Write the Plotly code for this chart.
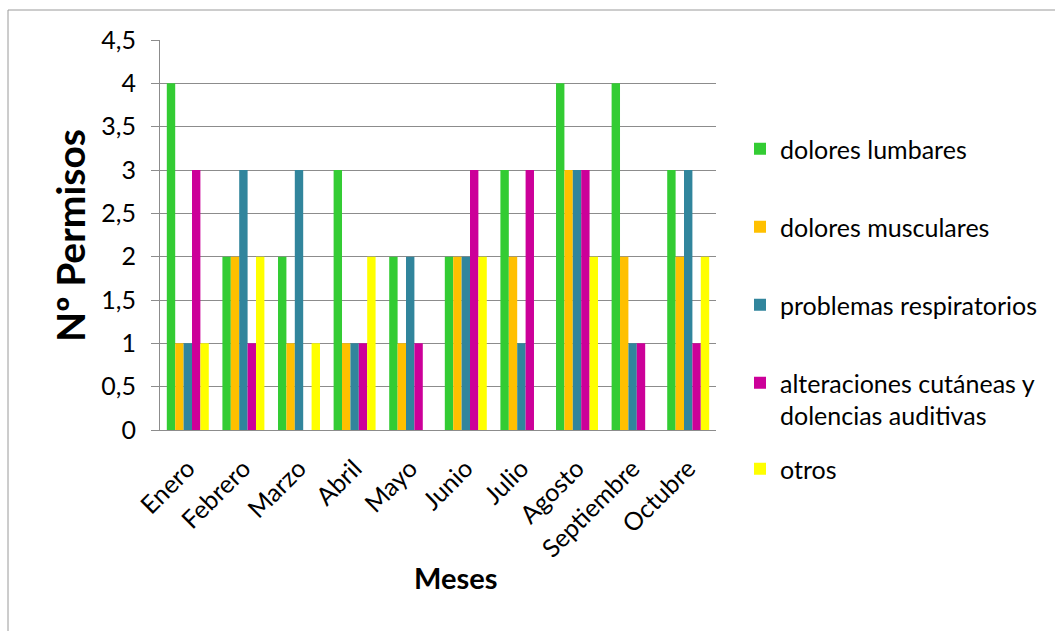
import plotly.graph_objects as go

meses = ["Enero", "Febrero", "Marzo", "Abril", "Mayo", "Junio", "Julio",
         "Agosto", "Septiembre", "Octubre"]
dolores_lumbares = [4, 2, 2, 3, 2, 2, 3, 4, 4, 3]
dolores_musculares = [1, 2, 1, 1, 1, 2, 2, 3, 2, 2]
problemas_respiratorios = [1, 3, 3, 1, 2, 2, 1, 3, 1, 3]
alteraciones_cutaneas = [3, 1, 0, 1, 1, 3, 3, 3, 1, 1]
otros = [1, 2, 1, 2, 0, 2, 0, 2, 0, 2]

series = [
    ("dolores lumbares", dolores_lumbares, "#33CC33"),
    ("dolores musculares", dolores_musculares, "#FFC000"),
    ("problemas respiratorios", problemas_respiratorios, "#31859C"),
    ("alteraciones cutáneas y<br>dolencias auditivas", alteraciones_cutaneas, "#CC0099"),
    ("otros", otros, "#FFFF00"),
]

FONT = "Lato"
FS = 25
W, H = 1055, 631
L, R, T, B = 160, W - 716, 40, H - 430
PW, PH = W - L - R, H - T - B

def px_x(x):
    return (x - L) / PW

def px_y(y):
    return (H - B - y) / PH

fig = go.Figure()
legend_centers = [150, 228, 306, 384, 470]
layout_legends = {}
for i, (name, vals, col) in enumerate(series):
    key = "legend" if i == 0 else f"legend{i+1}"
    fig.add_trace(go.Bar(
        x=meses, y=vals, name=name, marker=dict(color=col, line=dict(width=0)),
        legend=key,
    ))
    layout_legends[key] = dict(
        x=px_x(740), xanchor="left",
        y=px_y(legend_centers[i] - 24), yanchor="top",
        valign="top",
        font=dict(family=FONT, size=FS, color="#000000"),
        bgcolor="rgba(0,0,0,0)", borderwidth=0,
        itemclick=False, itemdoubleclick=False,
    )

fig.update_layout(
    width=W, height=H,
    margin=dict(l=L, r=R, t=T, b=B, autoexpand=False),
    paper_bgcolor="white", plot_bgcolor="white",
    barmode="group", bargap=0.245, bargroupgap=0,
    separators=",.",
    font=dict(family=FONT, size=FS, color="#000000"),
    showlegend=True,
    **layout_legends,
)

fig.update_xaxes(
    showline=True, linecolor="#8c8c8c", linewidth=1,
    ticks="", tickangle=-45, showgrid=False,
    tickfont=dict(family=FONT, size=FS, color="#000000"),
    ticklabelstandoff=13,
)
fig.update_yaxes(
    range=[0, 4.5], dtick=0.5, tick0=0,
    showline=True, linecolor="#8c8c8c", linewidth=1,
    showgrid=True, gridcolor="#8c8c8c", gridwidth=1,
    ticks="outside", ticklen=8, tickcolor="#8c8c8c",
    tickfont=dict(family=FONT, size=FS, color="#000000"),
    ticklabelstandoff=10, zeroline=False,
)

fig.add_annotation(text="<b>Nº Permisos</b>", x=px_x(70), y=px_y(236),
                   xref="paper", yref="paper", showarrow=False, textangle=-90,
                   xanchor="center", yanchor="middle",
                   font=dict(family=FONT, size=39, color="#000000"))
fig.add_annotation(text="<b>Meses</b>", x=px_x(455), y=px_y(577),
                   xref="paper", yref="paper", showarrow=False,
                   xanchor="center", yanchor="middle",
                   font=dict(family=FONT, size=29, color="#000000"))

# chart area border (top and left edges visible)
fig.add_shape(type="line", xref="paper", yref="paper",
              x0=px_x(8), x1=px_x(1060), y0=px_y(10), y1=px_y(10),
              line=dict(color="#9a9a9a", width=1))
fig.add_shape(type="line", xref="paper", yref="paper",
              x0=px_x(8), x1=px_x(8), y0=px_y(10), y1=px_y(640),
              line=dict(color="#9a9a9a", width=1))

fig.write_html("out.html")
